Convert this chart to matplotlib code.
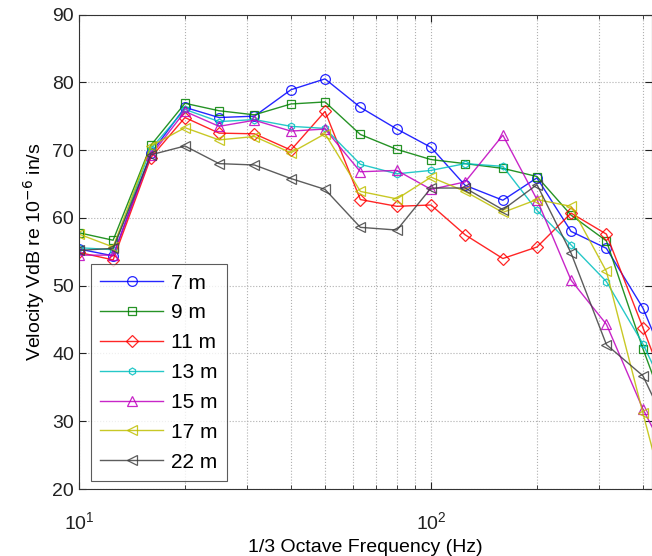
import numpy as np
import matplotlib
matplotlib.use("Agg")
import matplotlib.pyplot as plt
from matplotlib.ticker import LogLocator, NullFormatter

plt.rcParams['font.family'] = ['Liberation Sans', 'DejaVu Sans']

freqs = [10, 12.5, 16, 20, 25, 31.5, 40, 50, 63, 80, 100, 125, 160, 200, 250, 315, 400, 500]

labels = ["7 m", "9 m", "11 m", "13 m", "15 m", "17 m", "22 m"]

v_7m  = [55.4, 54.4, 69.5, 76.3, 74.8, 75.0, 78.9, 80.5, 76.3, 73.1, 70.4, 64.8, 62.6, 65.9, 58.0, 55.5, 46.7, 34.6]
v_9m  = [57.8, 56.7, 70.7, 76.9, 75.8, 75.2, 76.8, 77.1, 72.3, 70.1, 68.6, 68.0, 67.3, 66.1, 60.4, 56.6, 40.7, 27.1]
v_11m = [54.9, 53.8, 68.9, 74.8, 72.5, 72.4, 70.0, 75.7, 62.7, 61.7, 61.9, 57.5, 54.0, 55.7, 60.7, 57.6, 43.8, 30.6]
v_13m = [55.6, 55.3, 70.2, 76.0, 74.2, 74.5, 73.5, 73.2, 67.9, 66.5, 67.0, 68.0, 67.6, 61.1, 56.0, 50.6, 41.4, 30.8]
v_15m = [54.5, 54.5, 69.2, 75.7, 73.5, 74.4, 72.8, 73.1, 66.8, 67.0, 64.2, 65.3, 72.2, 62.7, 50.8, 44.3, 31.8, 22.0]
v_17m = [57.6, 55.7, 70.6, 73.3, 71.5, 72.0, 69.6, 72.4, 63.9, 62.8, 66.0, 63.9, 60.8, 62.7, 61.7, 52.1, 31.2, 12.0]
v_22m = [55.2, 55.5, 69.3, 70.6, 68.0, 67.8, 65.8, 64.2, 58.6, 58.2, 64.4, 64.4, 61.2, 64.9, 54.8, 41.3, 36.7, 26.1]

series = [v_7m, v_9m, v_11m, v_13m, v_15m, v_17m, v_22m]
colors = ['#0000ff', '#008000', '#ff0000', '#00bfbf', '#bf00bf', '#bfbf00', '#404040']
markers = ['o', 's', 'D', 'h', '^', '<', '<']
msizes = [7, 6, 6, 5, 7, 7, 7]

fig = plt.figure(figsize=(6.52, 5.56), dpi=100)
ax = fig.add_axes([79/652, 1-489/556, 1-79/652, (489-14.5)/556])

for vals, c, m, ms, lab in zip(series, colors, markers, msizes, labels):
    ax.plot(freqs, vals, color=c, marker=m, markersize=ms, markerfacecolor='none',
            markeredgecolor=c, linewidth=1.0, markeredgewidth=0.9, label=lab, alpha=0.85)

ax.set_xscale('log')
ax.set_xlim(10, 10**(1 + 573/352))
ax.set_ylim(20, 90)
ax.set_yticks(np.arange(20, 91, 10))
ax.xaxis.set_major_locator(LogLocator(base=10, numticks=10))
ax.xaxis.set_minor_locator(LogLocator(base=10, subs=np.arange(2, 10), numticks=20))
ax.xaxis.set_minor_formatter(NullFormatter())

ax.grid(True, which='major', axis='both', linestyle=':', color='#b0b0b0', linewidth=0.8)
ax.grid(True, which='minor', axis='x', linestyle=':', color='#b0b0b0', linewidth=0.8)
ax.tick_params(which='both', direction='in', labelsize=14, colors='#222222',
               top=True, right=True)
ax.tick_params(which='major', length=5)
ax.tick_params(which='minor', length=3)
ax.tick_params(axis='x', which='major', pad=16)
for s in ax.spines.values():
    s.set_color('#333333')

ax.set_xlabel('1/3 Octave Frequency (Hz)', fontsize=14, labelpad=4)
ax.set_ylabel('Velocity VdB re 10$^{-6}$ in/s', fontsize=14)

leg = ax.legend(loc='lower left', bbox_to_anchor=(12/573, 8/474.5), fontsize=15,
                frameon=True, fancybox=False, edgecolor='#333333', handlelength=3.0,
                handletextpad=0.4, borderpad=0.45, labelspacing=0.52, borderaxespad=0)
leg.get_frame().set_linewidth(0.8)

fig.savefig('out.png', dpi=100)
